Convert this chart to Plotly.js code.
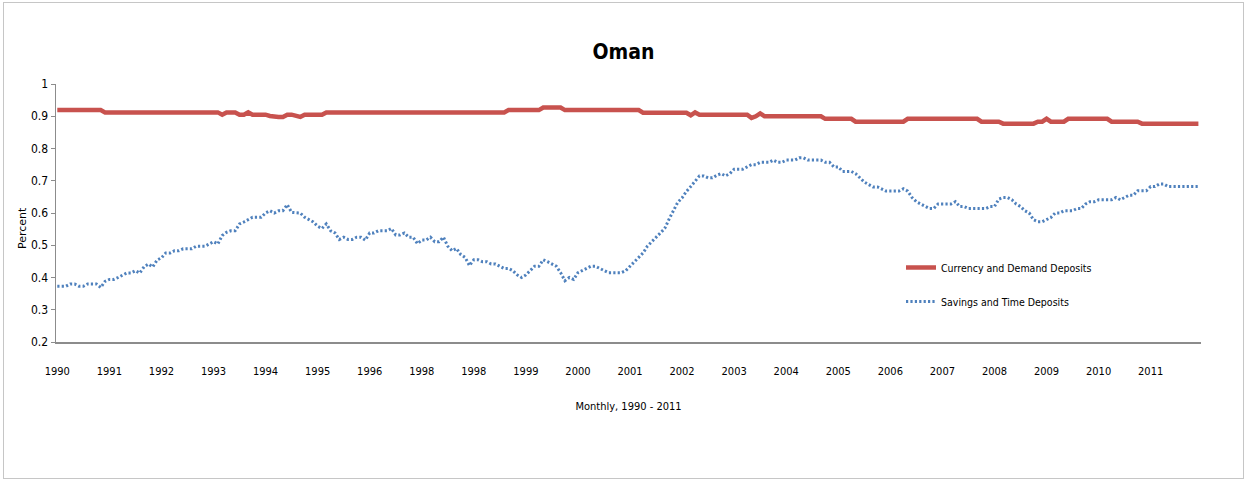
<!DOCTYPE html>
<html>
<head>
<meta charset="utf-8">
<script src="https://cdn.plot.ly/plotly-3.0.1.min.js"></script>
<style>
html,body{margin:0;padding:0;background:#fff;}
#wrap{position:relative;width:1247px;height:481px;overflow:hidden;}
#frame{position:absolute;left:3px;top:2px;width:1239px;height:475px;border:1px solid #c6c6c6;pointer-events:none;z-index:5;}
#chart{position:absolute;left:0;top:0;width:1247px;height:481px;}
</style>
</head>
<body>
<div id="wrap"><div id="chart"></div><div id="frame"></div></div>
<script>
// Years covered (monthly data, 12 points per year)
const years = [1990,1991,1992,1993,1994,1995,1996,1997,1998,1999,2000,2001,2002,2003,2004,2005,2006,2007,2008,2009,2010,2011];
// Tick labels as printed on the original chart (one per January)
const tickLabels = ["1990","1991","1992","1993","1994","1995","1996","1998","1998","1999","2000","2001","2002","2003","2004","2005","2006","2007","2008","2009","2010","2011"];

// Currency and Demand Deposits (share), monthly, 1990-2011
const currencyDemand = [
0.919,0.919,0.919,0.919,0.919,0.919,0.919,0.919,0.919,0.919,0.919,0.912,
0.912,0.912,0.912,0.912,0.912,0.912,0.912,0.912,0.912,0.912,0.912,0.912,
0.912,0.912,0.912,0.912,0.912,0.912,0.912,0.912,0.912,0.912,0.912,0.912,
0.912,0.912,0.905,0.912,0.912,0.912,0.905,0.905,0.912,0.905,0.905,0.905,
0.905,0.901,0.898,0.898,0.898,0.905,0.905,0.901,0.898,0.905,0.905,0.905,
0.905,0.905,0.912,0.912,0.912,0.912,0.912,0.912,0.912,0.912,0.912,0.912,
0.912,0.912,0.912,0.912,0.912,0.912,0.912,0.912,0.912,0.912,0.912,0.912,
0.912,0.912,0.912,0.912,0.912,0.912,0.912,0.912,0.912,0.912,0.912,0.912,
0.912,0.912,0.912,0.912,0.912,0.912,0.912,0.912,0.919,0.919,0.919,0.919,
0.919,0.919,0.919,0.919,0.927,0.927,0.927,0.927,0.927,0.919,0.919,0.919,
0.919,0.919,0.919,0.919,0.919,0.919,0.919,0.919,0.919,0.919,0.919,0.919,
0.919,0.919,0.919,0.911,0.911,0.911,0.911,0.911,0.911,0.911,0.911,0.911,
0.911,0.911,0.903,0.912,0.905,0.905,0.905,0.905,0.905,0.905,0.905,0.905,
0.905,0.905,0.905,0.905,0.895,0.900,0.909,0.900,0.900,0.900,0.900,0.900,
0.900,0.900,0.900,0.900,0.900,0.900,0.900,0.900,0.900,0.892,0.892,0.892,
0.892,0.892,0.892,0.892,0.883,0.883,0.883,0.883,0.883,0.883,0.883,0.883,
0.883,0.883,0.883,0.883,0.892,0.892,0.892,0.892,0.892,0.892,0.892,0.892,
0.892,0.892,0.892,0.892,0.892,0.892,0.892,0.892,0.892,0.883,0.883,0.883,
0.883,0.883,0.877,0.877,0.877,0.877,0.877,0.877,0.877,0.877,0.883,0.883,
0.892,0.883,0.883,0.883,0.883,0.892,0.892,0.892,0.892,0.892,0.892,0.892,
0.892,0.892,0.892,0.883,0.883,0.883,0.883,0.883,0.883,0.883,0.877,0.877,
0.877,0.877,0.877,0.877,0.877,0.877,0.877,0.877,0.877,0.877,0.877,0.877
];

// Savings and Time Deposits (share), monthly, 1990-2011
const savingsTime = [
0.373,0.373,0.373,0.380,0.380,0.373,0.373,0.380,0.380,0.380,0.369,0.388,
0.394,0.394,0.400,0.408,0.414,0.414,0.421,0.414,0.433,0.442,0.433,0.454,
0.461,0.476,0.476,0.483,0.483,0.489,0.489,0.489,0.497,0.497,0.497,0.504,
0.511,0.504,0.530,0.540,0.545,0.545,0.566,0.572,0.579,0.587,0.587,0.587,
0.600,0.607,0.600,0.607,0.607,0.626,0.602,0.600,0.600,0.587,0.579,0.572,
0.559,0.552,0.566,0.545,0.538,0.518,0.525,0.518,0.518,0.525,0.525,0.516,
0.538,0.538,0.545,0.545,0.545,0.552,0.532,0.532,0.538,0.525,0.525,0.505,
0.516,0.516,0.525,0.511,0.511,0.525,0.497,0.483,0.490,0.471,0.462,0.437,
0.455,0.455,0.449,0.449,0.442,0.442,0.435,0.428,0.428,0.421,0.408,0.400,
0.408,0.421,0.435,0.435,0.455,0.449,0.442,0.435,0.415,0.390,0.400,0.394,
0.415,0.421,0.428,0.435,0.435,0.428,0.421,0.415,0.415,0.415,0.415,0.421,
0.435,0.449,0.462,0.476,0.497,0.511,0.525,0.538,0.552,0.581,0.609,0.633,
0.647,0.667,0.682,0.697,0.715,0.715,0.709,0.709,0.717,0.722,0.715,0.722,
0.736,0.736,0.736,0.743,0.750,0.750,0.757,0.757,0.757,0.764,0.757,0.757,
0.764,0.764,0.764,0.771,0.771,0.764,0.764,0.764,0.764,0.757,0.757,0.743,
0.743,0.729,0.729,0.729,0.722,0.708,0.696,0.688,0.681,0.681,0.674,0.668,
0.668,0.668,0.668,0.675,0.668,0.648,0.635,0.628,0.620,0.614,0.614,0.628,
0.628,0.628,0.628,0.635,0.620,0.620,0.614,0.614,0.614,0.614,0.614,0.620,
0.620,0.643,0.648,0.648,0.641,0.628,0.620,0.607,0.600,0.579,0.573,0.573,
0.579,0.586,0.600,0.600,0.607,0.607,0.607,0.614,0.614,0.628,0.635,0.635,
0.641,0.641,0.641,0.641,0.648,0.641,0.648,0.655,0.655,0.669,0.669,0.669,
0.682,0.682,0.690,0.690,0.682,0.682,0.682,0.682,0.682,0.682,0.682,0.682
];

// Month categories built from the years list
const months = [];
years.forEach(y => { for (let m = 1; m <= 12; m++) months.push(y + "-" + (m < 10 ? "0" + m : m)); });
const tickVals = years.map(y => y + "-01");

const narrow = "DejaVu Sans Condensed, Liberation Sans Narrow, sans-serif";

const traces = [
  {
    x: months, y: currencyDemand, type: "scatter", mode: "lines",
    name: "Currency and Demand Deposits", legendgroup: "a",
    line: {color: "#C8524E", width: 4.5}
  },
  {
    x: months, y: savingsTime, type: "scatter", mode: "lines",
    name: "Savings and Time Deposits", legendgroup: "b",
    line: {color: "#4F81BD", width: 3, dash: "2.2px,2.2px"}
  }
];

const layout = {
  width: 1247, height: 481,
  margin: {l: 56, r: 46, t: 84, b: 139},
  paper_bgcolor: "#ffffff", plot_bgcolor: "#ffffff",
  font: {family: narrow, size: 11, color: "#000"},
  title: {
    text: "<b>Oman</b>",
    font: {family: narrow, size: 21, color: "#000"},
    x: 0.5, xanchor: "center", xref: "container",
    y: 1 - 52/481, yanchor: "middle", yref: "container"
  },
  showlegend: true,
  legend: {
    x: 0.738, y: 0.345, xanchor: "left", yanchor: "top",
    bgcolor: "rgba(0,0,0,0)", borderwidth: 0,
    font: {family: narrow, size: 10.5, color: "#000"},
    tracegroupgap: 15, traceorder: "grouped"
  },
  xaxis: {
    type: "category",
    range: [-0.3, 263.6],
    tickmode: "array", tickvals: tickVals, ticktext: tickLabels,
    tickangle: 0,
    showgrid: false, zeroline: false,
    showline: true, linecolor: "#8c8c8c", linewidth: 1.5,
    ticks: "", ticklabelstandoff: 18,
    tickfont: {family: narrow, size: 11, color: "#000"},
    title: {text: "Monthly, 1990 - 2011", font: {family: narrow, size: 11, color: "#000"}, standoff: 25},
    automargin: false, fixedrange: true
  },
  yaxis: {
    range: [0.2, 1.0],
    tickmode: "linear", tick0: 0.2, dtick: 0.1,
    showgrid: false, zeroline: false,
    showline: true, linecolor: "#8c8c8c", linewidth: 1.5,
    ticks: "outside", ticklen: 4, tickcolor: "#8c8c8c", tickwidth: 1,
    tickfont: {family: narrow, size: 12, color: "#000"},
    automargin: false, fixedrange: true
  },
  annotations: [
    {
      text: "Percent", textangle: -90,
      xref: "paper", yref: "paper",
      x: (22 - 56) / 1145, y: (342 - 228) / 258,
      xanchor: "center", yanchor: "middle", showarrow: false,
      font: {family: "DejaVu Sans, Verdana, sans-serif", size: 11, color: "#000"}
    }
  ]
};

Plotly.newPlot("chart", traces, layout, {displayModeBar: false, staticPlot: true});
</script>
</body>
</html>
